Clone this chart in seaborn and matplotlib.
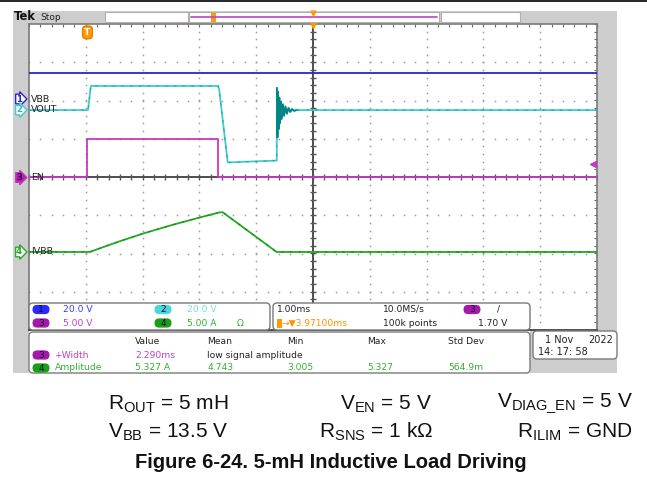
import matplotlib
matplotlib.use("Agg")
import matplotlib.pyplot as plt
from matplotlib.patches import FancyBboxPatch, Rectangle
import numpy as np
import pandas as pd
import seaborn as sns

W, H = 647, 483

sns.set_style("white")
plt.rcParams.update({
    "font.family": ["DejaVu Sans"],
    "mathtext.fontset": "custom",
    "mathtext.rm": "Liberation Sans",
})

# ── scope settings ─────────────────────────────────────────────────────────
T_CENTER = 3.971                       # ms at screen centre (trigger delay)
ch_names = ["VBB", "VOUT", "EN", "IVBB"]
ch_scale = [20.0, 20.0, 5.0, 5.0]      # V/div, A/div
ch_offset = [2.04, 1.75, 0.0, -1.96]   # ground marker position in div
ch_color = ["#2626c8", "#40cccc", "#c836c8", "#22aa22"]
dark_color = ["#14147a", "#0a8a8a", "#6a1a6a", "#107010"]
ring_color = "#008484"

# ── traces (time in ms, values in V or A) ──────────────────────────────────
t_vbb = [-1.03, 8.97]
v_vbb = [13.5, 13.5]

t_en = [-1.03, 0.0, 0.0, 2.29, 2.29, 8.97]
v_en = [0.0, 0.0, 5.0, 5.0, 0.0, 0.0]

t_vout = [-1.03, 0.01, 0.06, 2.30, 2.32, 2.47, 3.333,
          3.335, 3.345, 3.355, 3.365, 3.378, 3.39, 3.405, 3.42, 3.44,
          3.46, 3.485, 3.51, 3.54, 3.57, 3.60, 3.64, 3.68, 8.97]
v_vout = [0.0, 0.0, 12.6, 12.6, 10.5, -27.4, -26.4,
          11.6, -14.2, 9.5, -10.0, 6.5, -6.8, 4.4, -4.6, 3.0,
          -3.0, 1.9, -1.9, 1.1, -1.0, 0.5, -0.4, 0.0, 0.0]
RING_START, RING_END = 3.335, 3.68

t_ivbb = [-1.03, 0.04, 0.51, 0.98, 1.50, 2.00, 2.31, 2.38, 3.33, 8.97]
i_ivbb = [0.0, 0.0, 1.25, 2.41, 3.55, 4.55, 5.15, 5.20, 0.0, 0.0]

trig_level = 1.70   # V on ch3

# ── readouts ───────────────────────────────────────────────────────────────
scale_labels = ["20.0 V", "20.0 V", "5.00 V", "5.00 A"]
meas_header = ["Value", "Mean", "Min", "Max", "Std Dev"]
meas_width = ["2.290ms", "low signal amplitude"]
meas_amp = ["5.327 A", "4.743", "3.005", "5.327", "564.9m"]


def px_rect(x0, y0, x1, y1):
    return [x0 / W, 1 - y1 / H, (x1 - x0) / W, (y1 - y0) / H]


fig = plt.figure(figsize=(W / 100, H / 100), dpi=100)

# background frame (pixel coordinates)
bg = fig.add_axes([0, 0, 1, 1])
bg.set_xlim(0, W)
bg.set_ylim(H, 0)
bg.axis("off")
bg.add_patch(Rectangle((0, 0), W, 2.2, fc="#2a2a2a", ec="none"))
bg.add_patch(Rectangle((13, 11), 604, 362, fc="#cdcdcd", ec="none"))
bg.add_patch(Rectangle((29, 330), 501, 44, fc="white", ec="none"))

# graticule
ax = fig.add_axes(px_rect(29, 24, 597, 330))
x0 = T_CENTER - 5
ax.set_xlim(x0, T_CENTER + 5)
ax.set_ylim(-4, 4)
ax.set_facecolor("white")

xmaj = [x0 + k for k in range(1, 10) if k != 5]
ymaj = [j for j in range(-3, 4) if j != 0]
yfine = np.arange(-4, 4.01, 0.2)
xfine = x0 + np.arange(0, 10.01, 0.2)
for xm in xmaj:
    ax.plot(np.full_like(yfine, xm), yfine, ls="none", marker="s", ms=1.1,
            color="#9a9a9a", mew=0, zorder=1)
for ym in ymaj:
    ax.plot(xfine, np.full_like(xfine, ym), ls="none", marker="s", ms=1.1,
            color="#9a9a9a", mew=0, zorder=1)
ax.axvline(T_CENTER, color="#1e1e1e", lw=1.1, zorder=1)
ax.axhline(0, color="#1e1e1e", lw=1.1, zorder=1)
ax.plot(xfine, np.zeros_like(xfine), ls="none", marker="|", ms=4, color="#555", zorder=1)
ax.plot(np.full_like(yfine, T_CENTER), yfine, ls="none", marker="_", ms=4, color="#555", zorder=1)

ax.set_xticks(xfine)
ax.set_yticks(yfine)
ax.tick_params(direction="in", length=2.5, width=0.8, color="#666",
               top=True, right=True, labelbottom=False, labelleft=False)
for s in ax.spines.values():
    s.set_color("#7a7a7a")
    s.set_linewidth(1.2)
ax.spines["bottom"].set_color("#333")

# traces through seaborn
traces = [(t_vbb, v_vbb), (t_vout, v_vout), (t_en, v_en), (t_ivbb, i_ivbb)]
frames = []
for i, (t, v) in enumerate(traces):
    d = pd.DataFrame({"t": t, "val": v})
    d["div"] = d["val"] / ch_scale[i] + ch_offset[i]
    d["ch"] = ch_names[i]
    frames.append(d)
    sns.lineplot(data=d, x="t", y="div", sort=False, estimator=None,
                 color=ch_color[i], lw=1.3, ax=ax, legend=False, zorder=3)
    # persistence speckle of the acquisition, drawn as a dashed darker overlay
    if ch_names[i] in ("VOUT", "IVBB"):
        sns.lineplot(data=d, x="t", y="div", sort=False, estimator=None,
                     color=dark_color[i], lw=0.9, ax=ax, legend=False, zorder=3,
                     dashes=False, linestyle=(0, (2, 5)), alpha=0.55)
ring = frames[1].query("t >= @RING_START and t <= @RING_END")
sns.lineplot(data=ring, x="t", y="div", sort=False, estimator=None,
             color=ring_color, lw=1.3, ax=ax, legend=False, zorder=4)
ax.set_xlabel("")
ax.set_ylabel("")

# trigger level and position markers
ax.plot([T_CENTER + 4.93], [trig_level / ch_scale[2] + ch_offset[2]], marker="<",
        ms=5, color=ch_color[2], clip_on=False, zorder=5)
ax.plot([T_CENTER], [4.0], marker="v", ms=6, color="#ff9a00", clip_on=False, zorder=5)
ax.text(0.0, 3.78, "T", ha="center", va="center", fontsize=6.5, color="white",
        fontweight="bold",
        bbox=dict(boxstyle="round,pad=0.2,rounding_size=0.4", fc="#ff9a00", ec="#e08000"))

# overlay (pixel coordinates)
ov = fig.add_axes([0, 0, 1, 1], zorder=5)
ov.set_xlim(0, W)
ov.set_ylim(H, 0)
ov.axis("off")
ov.patch.set_alpha(0)

# top status bar
ov.text(14, 17, "Tek", fontsize=8.3, fontweight="bold", va="center", color="#111")
ov.text(40, 17, "Stop", fontsize=6.5, va="center", color="#222")
for bx0, bx1 in [(105, 188), (189, 439), (441, 520)]:
    ov.add_patch(Rectangle((bx0, 11.5), bx1 - bx0, 10.5, fc="white", ec="#b0b0b0", lw=0.8))
ov.plot([191, 437], [16.5, 16.5], color="#c040c8", lw=1.2)
ov.add_patch(Rectangle((210.5, 12.5), 5, 9, fc="#ff9a00", ec="none"))
ov.plot([313], [12.5], marker="v", ms=3.5, color="#ff9a00")

# channel markers on the left edge
marker_y = [99, 110, 177.5, 252]
marker_fc = ["white", "white", "#b020b0", "white"]
marker_tc = [ch_color[0], "#30b8b8", "#3a003a", ch_color[3]]
for i in range(4):
    ov.text(19, marker_y[i], str(i + 1), ha="center", va="center", fontsize=6.2,
            color=marker_tc[i], fontweight="bold",
            bbox=dict(boxstyle="rarrow,pad=0.04", fc=marker_fc[i], ec=ch_color[i], lw=1))
    ov.text(31, marker_y[i], ch_names[i], va="center", fontsize=6.8, color="#222")

# readout boxes
def rbox(x0_, y0_, x1_, y1_):
    ov.add_patch(FancyBboxPatch((x0_, y0_), x1_ - x0_, y1_ - y0_,
                                boxstyle="round,pad=0,rounding_size=4",
                                fc="white", ec="#7a7a7a", lw=1))

rbox(29, 303, 270, 330)
rbox(273, 303, 530, 330)
rbox(29, 332, 530, 373)
rbox(533, 331, 617, 359)

pill_fc = ["#2a2aff", "#48d8d8", "#a818a8", "#18a018"]
text_c = ["#3c3cff", "#70e0e0", "#c040c0", "#30b030"]


def pill(cx, cy, label, fc):
    ov.add_patch(FancyBboxPatch((cx - 8.5, cy - 4.6), 17, 9.2,
                                boxstyle="round,pad=0,rounding_size=4.6",
                                fc=fc, ec="none"))
    ov.text(cx, cy + 0.3, label, ha="center", va="center", fontsize=6.5, color="#0c0c30")


fs = 6.6
# channel scales
pill_pos = [(41, 309.5), (163, 309.5), (41, 323), (163, 323)]
lab_x = [63, 187, 63, 187]
for i in range(4):
    pill(*pill_pos[i], str(i + 1), pill_fc[i])
    ov.text(lab_x[i], pill_pos[i][1], scale_labels[i], va="center", fontsize=fs, color=text_c[i])
ov.text(237, 323, "Ω", va="center", fontsize=fs, color=text_c[3])

# timebase / trigger
ov.text(277, 309.5, "1.00ms", va="center", fontsize=fs, color="#222")
ov.text(383, 309.5, "10.0MS/s", va="center", fontsize=fs, color="#222")
pill(472, 309.5, "3", pill_fc[2])
ov.text(497, 309.5, "/", va="center", fontsize=fs, color="#222")
ov.add_patch(Rectangle((276.5, 318.5), 5, 9, fc="#ff9a00", ec="none"))
ov.text(282, 323, "→▼3.97100ms", va="center", fontsize=fs, color="#ff9000")
ov.text(383, 323, "100k points", va="center", fontsize=fs, color="#222")
ov.text(507, 323, "1.70 V", va="center", ha="right", fontsize=fs, color="#222")

# measurements
col_x = [135, 207, 287, 367, 448]
for cx, h in zip(col_x, meas_header):
    ov.text(cx, 341, h, va="center", fontsize=fs, color="#222")
pill(41, 355, "3", pill_fc[2])
ov.text(55, 355, "+Width", va="center", fontsize=fs, color=text_c[2])
ov.text(col_x[0], 355, meas_width[0], va="center", fontsize=fs, color=text_c[2])
ov.text(col_x[1], 355, meas_width[1], va="center", fontsize=fs, color="#222")
pill(41, 368, "4", pill_fc[3])
ov.text(55, 368, "Amplitude", va="center", fontsize=fs, color=text_c[3])
for cx, v in zip(col_x, meas_amp):
    ov.text(cx, 368, v, va="center", fontsize=fs, color=text_c[3])

# date
ov.text(545, 340, "1 Nov", va="center", fontsize=fs + 0.4, color="#222")
ov.text(613, 340, "2022", va="center", ha="right", fontsize=fs + 0.4, color="#222")
ov.text(538, 352, "14: 17: 58", va="center", fontsize=fs + 0.4, color="#222")

# caption
cap = dict(fontsize=15, family="Liberation Sans", va="center", color="#111")
ov.text(108, 404, r"R$_{\mathrm{OUT}}$ = 5 mH", ha="left", **cap)
ov.text(432, 404, r"V$_{\mathrm{EN}}$ = 5 V", ha="right", **cap)
ov.text(633, 404, r"V$_{\mathrm{DIAG\_EN}}$ = 5 V", ha="right", **cap)
ov.text(108, 432, r"V$_{\mathrm{BB}}$ = 13.5 V", ha="left", **cap)
ov.text(433, 432, r"R$_{\mathrm{SNS}}$ = 1 kΩ", ha="right", **cap)
ov.text(633, 432, r"R$_{\mathrm{ILIM}}$ = GND", ha="right", **cap)
ov.text(331, 463, "Figure 6-24. 5-mH Inductive Load Driving", ha="center", va="center",
        fontsize=14.5, fontweight="bold", family="Liberation Sans", color="#111")

fig.savefig("out.png", dpi=100)
